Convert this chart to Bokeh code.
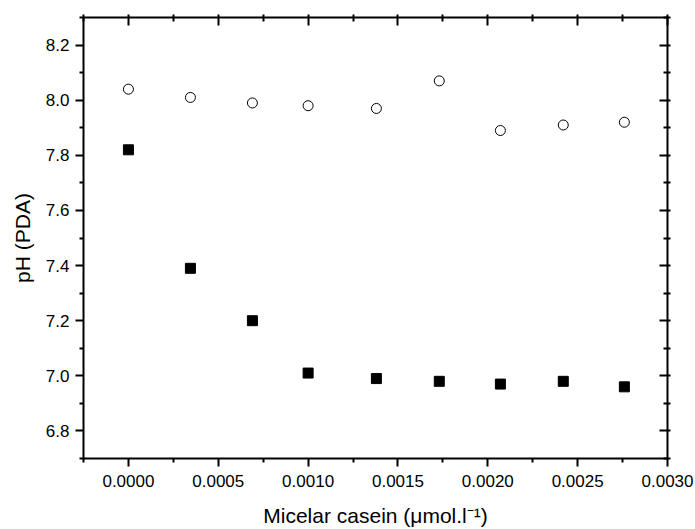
from bokeh.plotting import figure
from bokeh.models import LinearAxis, FixedTicker, NumeralTickFormatter, Range1d
from bokeh.embed import file_html
from bokeh.resources import INLINE

# Data
casein = [0.0, 0.000345, 0.00069, 0.001, 0.00138, 0.00173, 0.00207, 0.00242, 0.00276]
ph_open = [8.04, 8.01, 7.99, 7.98, 7.97, 8.07, 7.89, 7.91, 7.92]
ph_filled = [7.82, 7.39, 7.20, 7.01, 6.99, 6.98, 6.97, 6.98, 6.96]

x_ticks = [0.0, 0.0005, 0.001, 0.0015, 0.002, 0.0025, 0.003]
x_minor = [-0.00025, 0.00025, 0.00075, 0.00125, 0.00175, 0.00225, 0.00275]
y_ticks = [6.8, 7.0, 7.2, 7.4, 7.6, 7.8, 8.0, 8.2]
y_minor = [6.7, 6.9, 7.1, 7.3, 7.5, 7.7, 7.9, 8.1, 8.3]

X_START, X_END = -0.00025, 0.003
Y_START, Y_END = 6.7, 8.3

FONT = "Liberation Sans"

p = figure(width=695, height=529, output_backend="svg", toolbar_location=None,
           x_range=Range1d(X_START, X_END), y_range=Range1d(Y_START, Y_END),
           min_border_left=83, min_border_right=28, min_border_top=17, min_border_bottom=71,
           x_axis_label="Micelar casein (\u03bcmol.l\u207b\u00b9)", y_axis_label="pH (PDA)")
p.background_fill_color = "white"
p.border_fill_color = "white"
p.outline_line_color = None
p.grid.visible = False

p.scatter(casein, ph_open, marker="circle", size=10, fill_color="white",
          line_color="black", line_width=1)
p.scatter(casein, ph_filled, marker="square", size=10, fill_color="black",
          line_color="black", line_width=1)

def style(ax, ticks, minor, fmt, show_labels, inward):
    ax.ticker = FixedTicker(ticks=ticks, minor_ticks=minor)
    ax.formatter = NumeralTickFormatter(format=fmt)
    ax.axis_line_width = 2
    ax.axis_line_color = "black"
    ax.major_tick_line_width = 2
    ax.minor_tick_line_width = 2
    ax.major_tick_line_color = "black"
    ax.minor_tick_line_color = "black"
    if inward:
        ax.major_tick_in = 8
        ax.major_tick_out = 3
        ax.minor_tick_in = 4
        ax.minor_tick_out = 3
    else:
        ax.major_tick_in = 0
        ax.major_tick_out = 8
        ax.minor_tick_in = 0
        ax.minor_tick_out = 4
    ax.major_label_text_font = FONT
    ax.major_label_text_font_size = "17px"
    ax.major_label_text_color = "black"
    ax.axis_label_text_font = FONT
    ax.axis_label_text_font_size = "21px"
    ax.axis_label_text_font_style = "normal"
    ax.axis_label_text_color = "black"
    if not show_labels:
        ax.major_label_text_color = None

style(p.xaxis[0], x_ticks, x_minor, "0.0000", True, False)
style(p.yaxis[0], y_ticks, y_minor, "0.0", True, False)
p.xaxis[0].major_label_standoff = 8
p.yaxis[0].major_label_standoff = 6
p.xaxis[0].axis_label_standoff = 14
p.yaxis[0].axis_label_standoff = 9

top = LinearAxis()
style(top, x_ticks, x_minor, "0.0000", False, True)
p.add_layout(top, "above")
right = LinearAxis()
style(right, y_ticks, y_minor, "0.0", False, True)
p.add_layout(right, "right")

open("out.html", "w").write(file_html(p, INLINE))
